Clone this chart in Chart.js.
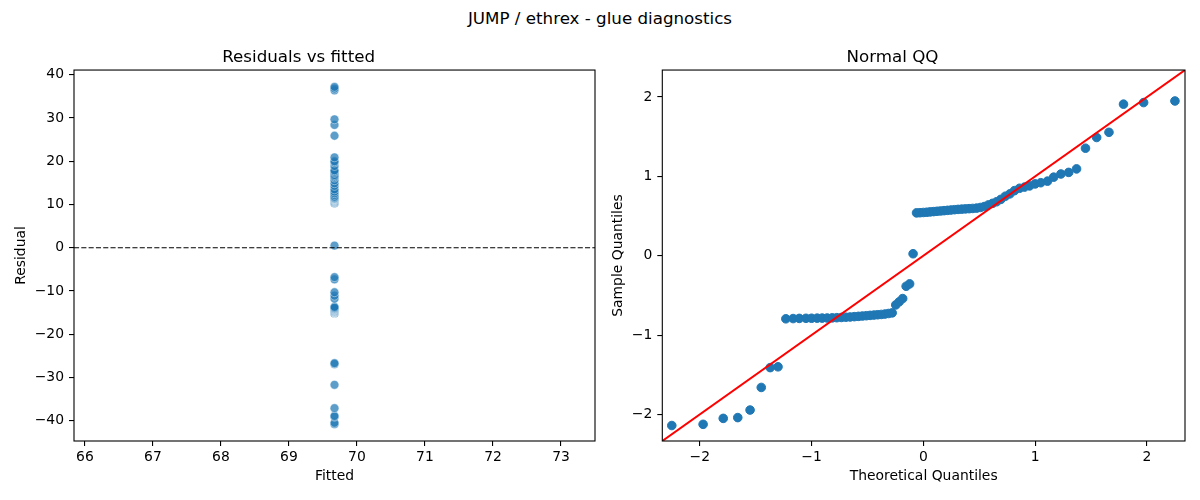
<!DOCTYPE html>
<html>
<head>
<meta charset="utf-8">
<script src="https://cdn.jsdelivr.net/npm/chart.js@4.4.1/dist/chart.umd.min.js"></script>
<style>
  body { margin: 0; background: #fff; }
  #wrap { position: relative; width: 1200px; height: 500px; font-family: 'DejaVu Sans', sans-serif; }
  #suptitle { position: absolute; left: 0; top: 8px; width: 1200px; text-align: center; font-size: 16.7px; line-height: 20px; color: #000; }
  canvas { position: absolute; top: 0; }
</style>
</head>
<body>
<div id="wrap">
  <div id="suptitle">JUMP / ethrex - glue diagnostics</div>
  <canvas id="resid" width="600" height="500" style="left:0"></canvas>
  <canvas id="qq" width="600" height="500" style="left:600px"></canvas>
</div>
<script>
// fitted value is the same for every row (intercept-only model)
const fitted = 69.67;

const residuals = [
  -40.8, -40.5, -39.1, -38.9, -37.1, -31.7, -26.9, -26.7,
  -15.2, -15.1, -15.1, -15.1, -15.0, -15.0, -15.0, -15.0, -14.9, -14.9, -14.8, -14.8,
  -14.7, -14.7, -14.6, -14.5, -14.4, -14.3, -14.3, -14.2, -14.1, -14.0, -13.9, -13.7,
  -11.8, -11.1, -10.3, -7.3, -6.8, 0.5,
  10.3, 10.3, 10.4, 10.5, 10.5, 10.6, 10.7, 10.8, 10.8, 10.9, 11.0, 11.1, 11.1, 11.2,
  11.3, 11.3, 11.4, 11.4, 11.6, 11.8, 12.2, 12.6, 13.0, 13.5, 14.3, 14.9, 15.6, 16.2,
  16.5, 16.8, 17.3, 17.6, 17.9, 18.9, 19.7, 20.0, 20.9, 25.9, 28.4, 29.7, 36.4, 36.8, 37.2
];

const theoretical = [
  -2.25, -1.97, -1.79, -1.66, -1.55, -1.45, -1.37, -1.30, -1.23, -1.165,
  -1.11, -1.05, -1.00, -0.95, -0.905, -0.86, -0.815, -0.774, -0.733, -0.693,
  -0.655, -0.618, -0.581, -0.545, -0.51, -0.476, -0.442, -0.409, -0.376, -0.343,
  -0.311, -0.279, -0.247, -0.216, -0.185, -0.154, -0.123, -0.092, -0.061, -0.031,
  0, 0.031, 0.061, 0.092, 0.123, 0.154, 0.185, 0.216, 0.247, 0.279,
  0.311, 0.343, 0.376, 0.409, 0.442, 0.476, 0.51, 0.545, 0.581, 0.618,
  0.655, 0.693, 0.733, 0.774, 0.815, 0.86, 0.905, 0.95, 1.00, 1.05,
  1.11, 1.165, 1.23, 1.30, 1.37, 1.45, 1.55, 1.66, 1.79, 1.97, 2.25
];

const sample = [
  -2.14, -2.125, -2.05, -2.04, -1.945, -1.66, -1.41, -1.40,
  -0.795, -0.792, -0.79, -0.789, -0.788, -0.787, -0.786, -0.785, -0.783, -0.781, -0.778, -0.775,
  -0.772, -0.768, -0.764, -0.76, -0.756, -0.752, -0.748, -0.744, -0.74, -0.735, -0.728, -0.72,
  -0.62, -0.58, -0.54, -0.385, -0.355, 0.025,
  0.54, 0.542, 0.545, 0.548, 0.552, 0.556, 0.56, 0.564, 0.568, 0.572, 0.576, 0.58, 0.584, 0.587,
  0.59, 0.593, 0.596, 0.60, 0.608, 0.62, 0.64, 0.66, 0.68, 0.71, 0.75, 0.78, 0.82, 0.85,
  0.865, 0.88, 0.905, 0.92, 0.94, 0.99, 1.03, 1.05, 1.094, 1.355, 1.49, 1.555, 1.91, 1.93, 1.95
];

const residTicksX = [66, 67, 68, 69, 70, 71, 72, 73];
const residTicksY = [-40, -30, -20, -10, 0, 10, 20, 30, 40];
const qqTicks = [-2, -1, 0, 1, 2];

const residRangeX = [65.84, 73.5];
const residRangeY = [-44.7, 41.1];
const qqRange = [-2.335, 2.34];

Chart.defaults.font.family = "'DejaVu Sans', sans-serif";
Chart.defaults.font.size = 13.9;
Chart.defaults.color = '#000';

const fmt = v => String(v).replace('-', '\u2212');

// matplotlib style box around the plot area
const frame = {
  id: 'frame',
  afterDatasetsDraw(chart) {
    const {ctx, chartArea: a} = chart;
    ctx.save();
    ctx.strokeStyle = '#000';
    ctx.lineWidth = 1.1;
    ctx.strokeRect(a.left, a.top, a.right - a.left, a.bottom - a.top);
    ctx.restore();
  }
};

function axis(range, ticks, label, horizontal, size, titlePad) {
  return {
    type: 'linear',
    min: range[0],
    max: range[1],
    afterBuildTicks: s => { s.ticks = ticks.map(v => ({value: v})); },
    afterFit: s => { if (horizontal) s.height = size; else s.width = size; },
    grid: {drawOnChartArea: false, drawTicks: true, tickLength: 5, color: '#000', lineWidth: 1.1},
    border: {display: false},
    ticks: {padding: horizontal ? 3 : 5, autoSkip: false, maxRotation: 0, callback: v => fmt(v)},
    title: {
      display: true,
      text: label,
      font: {size: 13.9},
      padding: horizontal ? {top: 0, bottom: titlePad} : {top: titlePad, bottom: 0}
    }
  };
}

function plugins(title) {
  return {
    legend: {display: false},
    tooltip: {enabled: false},
    title: {display: true, text: title, font: {size: 16.7, weight: 'normal'}, padding: {top: 47.5, bottom: 2.5}}
  };
}

new Chart(document.getElementById('resid'), {
  type: 'scatter',
  data: {
    datasets: [{
      data: residuals.map(r => ({x: fitted, y: r})),
      backgroundColor: 'rgba(31,119,180,0.72)',
      borderColor: 'rgba(255,255,255,0.72)',
      borderWidth: 0.6,
      pointRadius: 4.4,
      order: 1
    }, {
      data: [{x: residRangeX[0], y: 0}, {x: residRangeX[1], y: 0}],
      showLine: true,
      borderColor: '#000',
      borderWidth: 1.1,
      borderDash: [5.1, 2.2],
      pointRadius: 0,
      order: 0
    }]
  },
  options: {
    responsive: false,
    animation: false,
    devicePixelRatio: 1,
    layout: {padding: {left: 0, right: 2.7, top: 0, bottom: 0}},
    scales: {
      x: axis(residRangeX, residTicksX, 'Fitted', true, 59, 15),
      y: axis(residRangeY, residTicksY, 'Residual', false, 74, 12.7)
    },
    plugins: plugins('Residuals vs fitted')
  },
  plugins: [frame]
});

new Chart(document.getElementById('qq'), {
  type: 'scatter',
  data: {
    datasets: [{
      data: theoretical.map((t, i) => ({x: t, y: sample[i]})),
      backgroundColor: '#1f77b4',
      borderColor: '#1f77b4',
      borderWidth: 1,
      pointRadius: 4.3,
      order: 1
    }, {
      data: [{x: qqRange[0], y: qqRange[0]}, {x: qqRange[1], y: qqRange[1]}],
      showLine: true,
      borderColor: '#ff0000',
      borderWidth: 2,
      pointRadius: 0,
      order: 0
    }]
  },
  options: {
    responsive: false,
    animation: false,
    devicePixelRatio: 1,
    layout: {padding: {left: 0, right: 15, top: 0, bottom: 0}},
    scales: {
      x: axis(qqRange, qqTicks, 'Theoretical Quantiles', true, 59, 15),
      y: axis(qqRange, qqTicks, 'Sample Quantiles', false, 62.3, 9.7)
    },
    plugins: plugins('Normal QQ')
  },
  plugins: [frame]
});
</script>
</body>
</html>
